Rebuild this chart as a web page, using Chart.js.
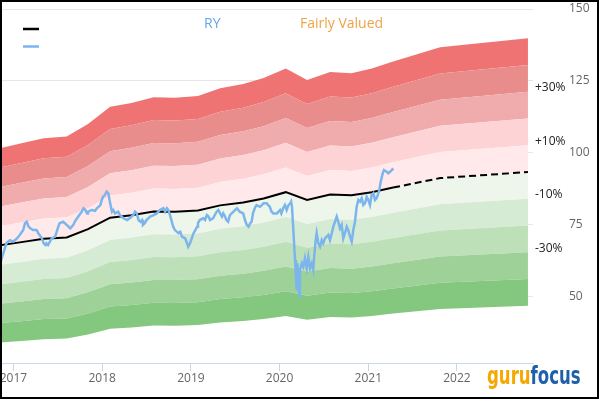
<!DOCTYPE html>
<html>
<head>
<meta charset="utf-8">
<script src="https://cdn.jsdelivr.net/npm/chart.js@4.4.1/dist/chart.umd.min.js"></script>
<style>
  body { margin: 0; background: #fff; }
  #box { width: 600px; height: 400px; }
</style>
</head>
<body>
<div id="box"><canvas id="grafico" width="600" height="400"></canvas></div>
<script>
const ticker = 'RY'
const valueTitle = 'Fairly Valued'

// fair value (GF Value) nodes, the last two are the projection
const fairYears = [2016.83, 2017.09, 2017.34, 2017.60, 2017.84, 2018.09, 2018.33, 2018.58, 2018.82, 2019.08,
    2019.33, 2019.59, 2019.82, 2020.07, 2020.31, 2020.57, 2020.81, 2021.04, 2021.28, 2021.81, 2022.80]
const fairValues = [67.6, 68.8, 70.0, 70.4, 73.3, 77.3, 78.2, 79.5, 79.4, 79.8,
    81.6, 82.6, 84.0, 86.2, 83.5, 85.4, 85.1, 86.2, 87.8, 91.1, 93.2]
const lastActualYear = 2021.28

// share price
const priceYears = [2016.85, 2016.885, 2016.92, 2016.96, 2017.00, 2017.04, 2017.07, 2017.11, 2017.13, 2017.15,
    2017.17, 2017.19, 2017.22, 2017.26, 2017.28, 2017.32, 2017.34, 2017.36, 2017.37, 2017.39,
    2017.43, 2017.47, 2017.505, 2017.52, 2017.56, 2017.60, 2017.64, 2017.675, 2017.69, 2017.73,
    2017.77, 2017.79, 2017.81, 2017.83, 2017.84, 2017.88, 2017.92, 2017.94, 2017.98, 2017.995,
    2018.01, 2018.03, 2018.05, 2018.07, 2018.09, 2018.11, 2018.125, 2018.145, 2018.18, 2018.20,
    2018.24, 2018.28, 2018.31, 2018.35, 2018.37, 2018.39, 2018.41, 2018.43, 2018.45, 2018.46,
    2018.48, 2018.50, 2018.54, 2018.58, 2018.615, 2018.65, 2018.69, 2018.71, 2018.73, 2018.745,
    2018.765, 2018.80, 2018.82, 2018.86, 2018.88, 2018.90, 2018.935, 2018.95, 2018.97, 2018.99,
    2019.01, 2019.03, 2019.05, 2019.07, 2019.08, 2019.10, 2019.14, 2019.16, 2019.18, 2019.20,
    2019.215, 2019.25, 2019.29, 2019.31, 2019.33, 2019.35, 2019.365, 2019.385, 2019.40, 2019.42,
    2019.44, 2019.48, 2019.52, 2019.535, 2019.55, 2019.59, 2019.61, 2019.63, 2019.65, 2019.67,
    2019.685, 2019.70, 2019.72, 2019.74, 2019.78, 2019.82, 2019.855, 2019.89, 2019.91, 2019.93,
    2019.97, 2020.005, 2020.02, 2020.04, 2020.06, 2020.08, 2020.10, 2020.12, 2020.13, 2020.14,
    2020.155, 2020.174, 2020.185, 2020.193, 2020.20, 2020.211, 2020.222, 2020.23, 2020.25, 2020.267,
    2020.286, 2020.306, 2020.324, 2020.343, 2020.362, 2020.38, 2020.39, 2020.407, 2020.418, 2020.437,
    2020.456, 2020.475, 2020.493, 2020.512, 2020.531, 2020.55, 2020.568, 2020.588, 2020.606, 2020.625,
    2020.644, 2020.662, 2020.681, 2020.70, 2020.718, 2020.737, 2020.757, 2020.775, 2020.794, 2020.813,
    2020.831, 2020.85, 2020.869, 2020.888, 2020.907, 2020.926, 2020.944, 2020.963, 2020.982, 2021.00,
    2021.019, 2021.038, 2021.057, 2021.076, 2021.095, 2021.113, 2021.124, 2021.14, 2021.163, 2021.177,
    2021.208, 2021.226, 2021.245, 2021.264, 2021.282]
const prices = [61.4, 64.9, 68.4, 69.5, 69.0, 70.1, 71.3, 73.0, 75.4, 75.9,
    74.2, 73.6, 73.0, 73.0, 71.9, 70.1, 68.4, 67.8, 68.4, 67.8,
    70.1, 70.7, 74.2, 75.4, 75.9, 74.8, 73.6, 74.8, 75.9, 77.7,
    79.4, 80.6, 80.0, 78.8, 79.4, 80.0, 79.7, 80.6, 81.7, 83.5,
    84.6, 85.2, 86.4, 85.8, 82.3, 79.4, 80.0, 78.8, 79.4, 78.2,
    77.1, 76.5, 77.1, 78.2, 79.4, 78.8, 76.5, 75.9, 76.5, 74.8,
    75.4, 76.5, 77.7, 78.2, 78.8, 80.0, 80.6, 79.4, 80.6, 80.0,
    78.2, 74.2, 73.0, 71.9, 72.4, 70.7, 70.1, 69.0, 67.2, 68.4,
    70.1, 71.9, 73.0, 74.2, 75.4, 76.5, 77.1, 76.5, 78.2, 77.7,
    76.5, 77.1, 79.4, 80.0, 78.8, 77.7, 78.8, 77.7, 76.5, 75.9,
    78.2, 79.4, 80.6, 80.0, 79.4, 78.8, 76.5, 74.8, 74.2, 75.4,
    75.9, 78.8, 80.6, 81.7, 81.1, 82.3, 82.3, 81.1, 79.4, 78.8,
    78.8, 80.0, 78.8, 80.6, 81.7, 80.0, 81.7, 82.3, 82.9, 81.1,
    73.0, 62.6, 56.8, 52.1, 61.4, 56.8, 49.8, 59.1, 61.4, 60.2,
    63.2, 59.7, 63.7, 59.7, 61.4, 59.1, 63.7, 69.5, 71.9, 68.4,
    67.2, 69.5, 68.4, 70.1, 70.7, 71.3, 69.5, 71.9, 74.2, 75.9,
    77.7, 75.9, 73.6, 74.8, 70.1, 71.9, 74.2, 73.0, 70.7, 69.0,
    73.0, 75.9, 81.1, 83.5, 82.9, 84.1, 81.7, 82.3, 84.6, 83.5,
    81.7, 85.2, 85.8, 83.5, 84.1, 85.8, 87.0, 89.8, 92.8, 93.9,
    93.3, 92.8, 93.3, 93.9, 94.5]

// band edges as multiples of the fair value, bottom to top
const bandMultipliers = [0.5, 0.6, 0.7, 0.8, 0.9, 1.0, 1.1, 1.2, 1.3, 1.4, 1.5]
const bandColors = ['#84c77f', '#9dd197', '#bde0b8', '#d6ebd3', '#eef6ec',
    '#ffe9eb', '#fdd3d6', '#f0acac', '#e88c8c', '#f07373']

const pctLabels = ['+30%', '+10%', '-10%', '-30%']
const pctSteps = [0.3, 0.1, -0.1, -0.3]
const yTicks = [50, 75, 100, 125, 150]
const xTicks = [2017, 2018, 2019, 2020, 2021, 2022]

function zip(xs, ys) {
    return xs.map((x, i) => ({ x: x, y: ys[i] }))
}

function bandDatasets() {
    return bandMultipliers.map((m, i) => ({
        data: zip(fairYears, fairValues.map(v => v * m)),
        borderWidth: 0,
        pointRadius: 0,
        fill: i === 0 ? false : '-1',
        backgroundColor: i === 0 ? 'transparent' : bandColors[i - 1]
    }))
}

const decorations = {
    id: 'decorations',
    afterDatasetsDraw(chart) {
        let ctx = chart.ctx
        let area = chart.chartArea
        let y = chart.scales.y
        let last = fairValues[fairValues.length - 1]
        ctx.save()
        ctx.font = '12px "Open Sans"'
        ctx.fillStyle = '#222'
        ctx.textAlign = 'left'
        ctx.textBaseline = 'middle'
        pctSteps.forEach((p, i) => {
            ctx.fillText(pctLabels[i], area.right + 2, y.getPixelForValue(last * (1 + p)) - 4)
        })

        // header
        ctx.font = '14px "Open Sans"'
        ctx.fillStyle = '#62a6ec'
        ctx.fillText(ticker, 204, 24)
        ctx.fillStyle = '#eda447'
        ctx.fillText(valueTitle, 300, 24)

        // legend marks
        ctx.lineWidth = 2.5
        ctx.strokeStyle = '#000'
        ctx.beginPath(); ctx.moveTo(23, 29); ctx.lineTo(39, 29); ctx.stroke()
        ctx.strokeStyle = '#7cb5ec'
        ctx.beginPath(); ctx.moveTo(23, 46.5); ctx.lineTo(39, 46.5); ctx.stroke()
        ctx.restore()
    },
    afterDraw(chart) {
        let ctx = chart.ctx
        ctx.save()
        // gurufocus logo
        ctx.font = 'bold 24px "DejaVu Sans"'
        ctx.textBaseline = 'alphabetic'
        ctx.translate(487, 384)
        ctx.scale(0.69, 1)
        ctx.fillStyle = '#f5a800'
        ctx.fillText('guru', 0, 0)
        let w = ctx.measureText('guru').width
        ctx.fillStyle = '#1f5fac'
        ctx.fillText('focus', w, 0)
        ctx.restore()

        ctx.save()
        ctx.strokeStyle = '#000'
        ctx.lineWidth = 2
        ctx.strokeRect(1, 1, 597, 397)
        ctx.restore()
    }
}

function fairValueChart(canvas) {
    return new Chart(canvas, {
        type: 'line',
        data: {
            datasets: [{
                label: ticker,
                data: zip(priceYears, prices),
                borderColor: '#7cb5ec',
                borderWidth: 2.5,
                pointRadius: 0,
                fill: false
            }, {
                label: valueTitle,
                data: zip(fairYears, fairValues),
                borderColor: '#000',
                borderWidth: 2,
                pointRadius: 0,
                fill: false,
                segment: {
                    borderDash: c => c.p0.parsed.x >= lastActualYear ? [7, 4] : undefined
                }
            }].concat(bandDatasets())
        },
        options: {
            responsive: false,
            animation: false,
            layout: { padding: { top: 9, left: 0, right: 0, bottom: 0 } },
            plugins: { legend: { display: false }, tooltip: { enabled: false } },
            elements: { line: { tension: 0 } },
            scales: {
                x: {
                    type: 'linear',
                    min: 2016.848,
                    max: 2022.857,
                    afterBuildTicks: s => { s.ticks = xTicks.map(v => ({ value: v })) },
                    afterFit: s => {
                        s.height = 37
                        s.paddingLeft = 0
                        s.paddingRight = 0
                    },
                    grid: { drawOnChartArea: false, color: '#ccd6eb', tickLength: 8 },
                    border: { color: '#ccd6eb' },
                    ticks: {
                        color: '#666',
                        padding: 0,
                        maxRotation: 0,
                        font: { family: 'Open Sans', size: 12 },
                        callback: v => String(v)
                    }
                },
                y: {
                    position: 'right',
                    min: 26.7,
                    max: 150,
                    afterBuildTicks: s => { s.ticks = yTicks.map(v => ({ value: v })) },
                    afterFit: s => {
                        s.width = 67
                        s.paddingTop = 0
                        s.paddingBottom = 0
                    },
                    grid: { color: '#e6e6e6', drawTicks: false },
                    border: { display: false },
                    ticks: {
                        color: '#666',
                        padding: 36,
                        font: { family: 'Open Sans', size: 12 }
                    }
                }
            }
        },
        plugins: [decorations]
    })
}

fairValueChart(document.getElementById('grafico'))
</script>
</body>
</html>
